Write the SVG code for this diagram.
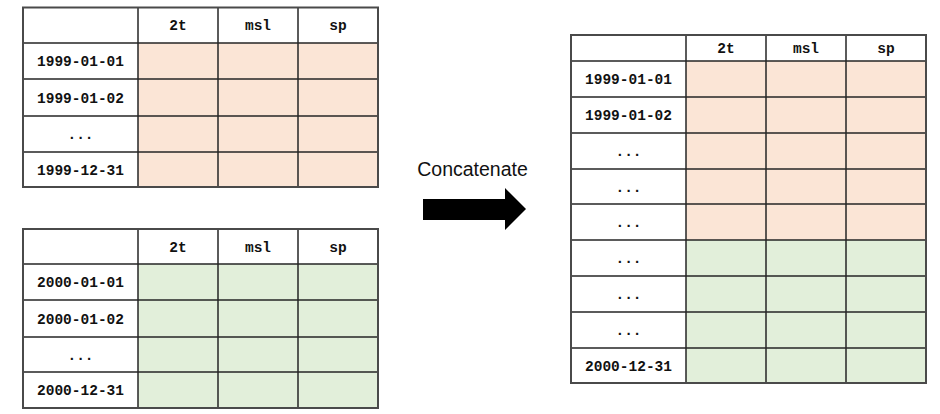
<svg xmlns="http://www.w3.org/2000/svg" width="940" height="414" viewBox="0 0 940 414">
  <style>
    .cell { fill: #ffffff; }
    .warm { fill: #fbe5d6; }
    .cool { fill: #e2efda; }
    .grid { stroke: #262626; stroke-width: 1.5; fill: none; }
    .frame { stroke: #4a4a4a; stroke-width: 2; fill: none; }
    .mono { font-family: "Liberation Mono", "Courier New", monospace; font-weight: bold; font-size: 14.5px; fill: #111111; text-anchor: middle; }
    .label { font-family: "Liberation Sans", Arial, sans-serif; font-size: 19.5px; fill: #111111; text-anchor: middle; }
  </style>

  <rect x="0" y="0" width="940" height="414" fill="#ffffff"/>

  <!-- 1999 table -->
  <g id="table-1999">
    <rect class="cell" x="23" y="7.5" width="355" height="179.5"/>
    <rect class="warm" x="138" y="43" width="240" height="144"/>
    <path class="grid" d="M138 7.5V187 M218 7.5V187 M298 7.5V187 M23 43H378 M23 79H378 M23 116H378 M23 152H378"/>
    <rect class="frame" x="23" y="7.5" width="355" height="179.5"/>
    <text class="mono" x="178" y="30">2t</text>
    <text class="mono" x="258" y="30">msl</text>
    <text class="mono" x="338" y="30">sp</text>
    <text class="mono" x="80.5" y="66">1999-01-01</text>
    <text class="mono" x="80.5" y="102.5">1999-01-02</text>
    <text class="mono" x="80.5" y="139">...</text>
    <text class="mono" x="80.5" y="174.5">1999-12-31</text>
  </g>

  <!-- 2000 table -->
  <g id="table-2000">
    <rect class="cell" x="23" y="229" width="355" height="179"/>
    <rect class="cool" x="138" y="264" width="240" height="144"/>
    <path class="grid" d="M138 229V408 M218 229V408 M298 229V408 M23 264H378 M23 300H378 M23 337H378 M23 372H378"/>
    <rect class="frame" x="23" y="229" width="355" height="179"/>
    <text class="mono" x="178" y="251.5">2t</text>
    <text class="mono" x="258" y="251.5">msl</text>
    <text class="mono" x="338" y="251.5">sp</text>
    <text class="mono" x="80.5" y="287">2000-01-01</text>
    <text class="mono" x="80.5" y="323.5">2000-01-02</text>
    <text class="mono" x="80.5" y="359.5">...</text>
    <text class="mono" x="80.5" y="395">2000-12-31</text>
  </g>

  <!-- combined table -->
  <g id="table-combined">
    <rect class="cell" x="571" y="35" width="355" height="348"/>
    <rect class="warm" x="686" y="61" width="240" height="179"/>
    <rect class="cool" x="686" y="240" width="240" height="143"/>
    <path class="grid" d="M686 35V383 M766 35V383 M846 35V383 M571 61H926 M571 97H926 M571 133H926 M571 169H926 M571 204H926 M571 240H926 M571 276H926 M571 312H926 M571 348H926"/>
    <rect class="frame" x="571" y="35" width="355" height="348"/>
    <text class="mono" x="726" y="53">2t</text>
    <text class="mono" x="806" y="53">msl</text>
    <text class="mono" x="886" y="53">sp</text>
    <text class="mono" x="628.5" y="84">1999-01-01</text>
    <text class="mono" x="628.5" y="120">1999-01-02</text>
    <text class="mono" x="628.5" y="156">...</text>
    <text class="mono" x="628.5" y="191.5">...</text>
    <text class="mono" x="628.5" y="227">...</text>
    <text class="mono" x="628.5" y="263">...</text>
    <text class="mono" x="628.5" y="299">...</text>
    <text class="mono" x="628.5" y="335">...</text>
    <text class="mono" x="628.5" y="370.5">2000-12-31</text>
  </g>

  <!-- block arrow with its caption -->
  <g id="connectors">
    <text class="label" x="472.5" y="176">Concatenate</text>
    <polygon points="423,199 505,199 505,188 526,209 505,230 505,220 423,220" fill="#000000"/>
  </g>
</svg>
